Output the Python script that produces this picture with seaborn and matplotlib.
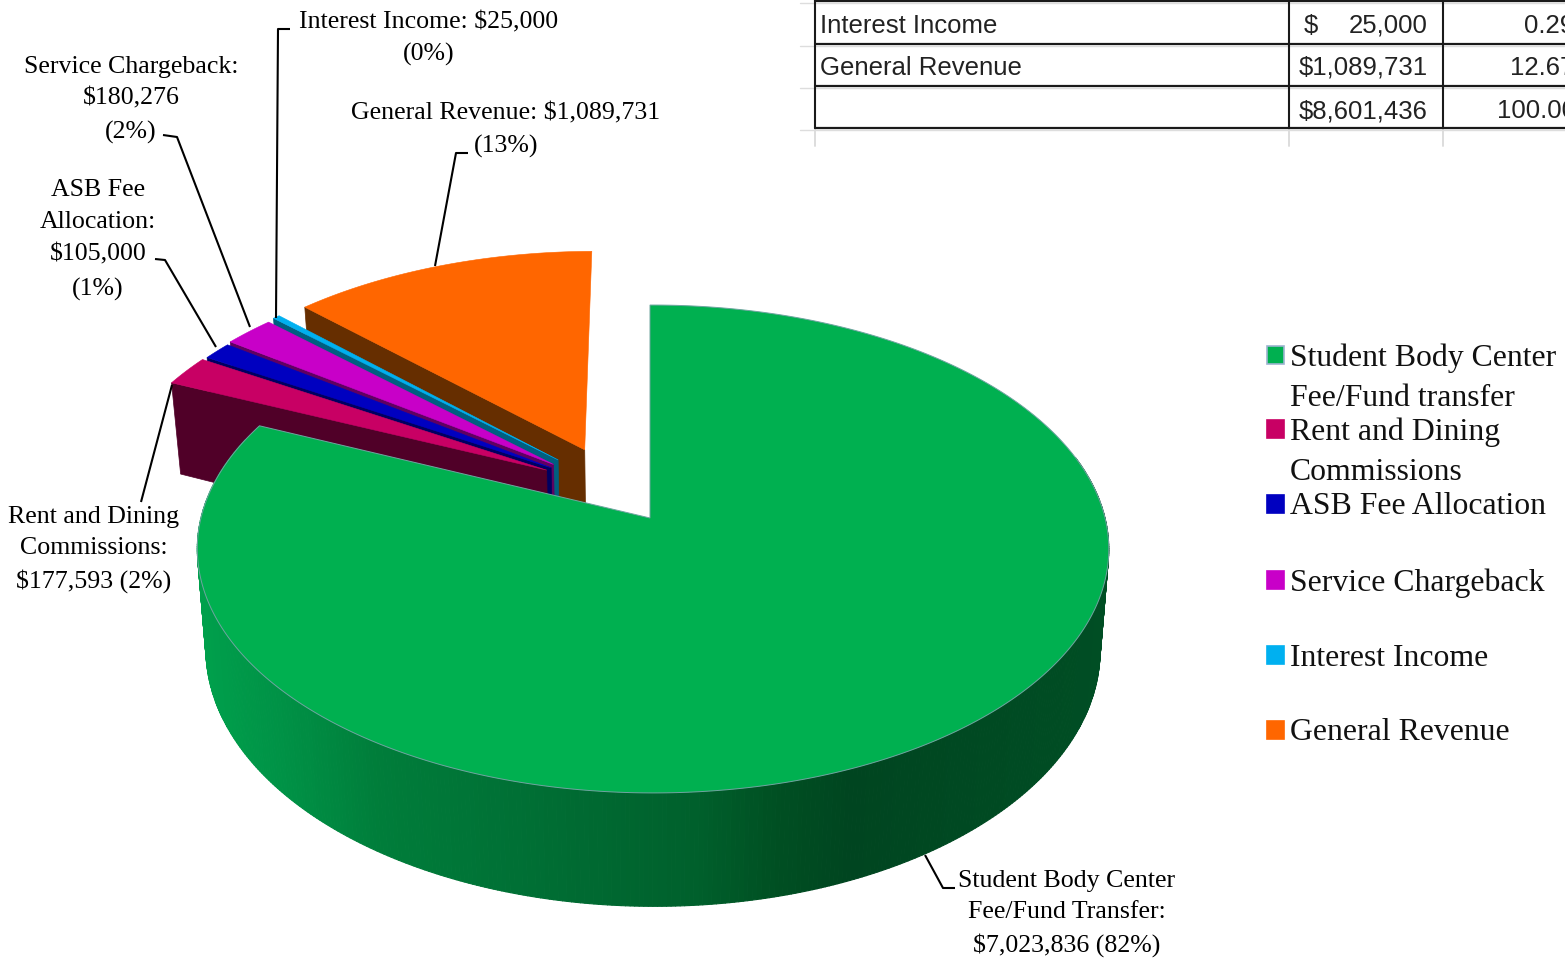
import numpy as np
import matplotlib
matplotlib.use("Agg")
import matplotlib.pyplot as plt
from matplotlib.collections import PolyCollection
from matplotlib.colors import LinearSegmentedColormap
from matplotlib.patches import Polygon, Rectangle
import seaborn as sns

# Budget sources, in clockwise drawing order from twelve o'clock
sources = ["Student Body Center", "Rent and Dining", "ASB Fee Allocation",
           "Service Chargeback", "Interest Income", "General Revenue"]
amounts = [7023836, 177593, 105000, 180276, 25000, 1089731]

legend_lines = [["Student Body Center", "Fee/Fund transfer"],
                ["Rent and Dining", "Commissions"],
                ["ASB Fee Allocation"],
                ["Service Chargeback"],
                ["Interest Income"],
                ["General Revenue"]]

top_colors = ["#00B050", "#C80064", "#0000C0", "#C800C8", "#00B0F0", "#FF6600"]
side_colors = ["#006B33", "#500028", "#000060", "#600060", "#005F80", "#662E00"]

# How far each slice is pulled out of the pie, in units of the radius (sideways, backwards)
pull_out = [(0.0, 0.0), (-0.235, 0.205), (-0.225, 0.215), (-0.22, 0.23), (-0.21, 0.25), (-0.15, 0.295)]

# Projection of the pie disc onto the canvas
APEX_X, APEX_Y = 650.0, 518.0
SCALE_X, SCALE_Y = 452.0, 240.0
TILT = 0.127
SKEW = -0.0066
DEPTH = 99.0
BASE_SHRINK = 0.981

sns.set_theme(style="white")
SERIF = "Liberation Serif"
GRID_FONT = "Liberation Sans"

fig = plt.figure(figsize=(15.65, 9.6), dpi=100)
ax = fig.add_axes([0, 0, 1, 1])
ax.set_xlim(0, 1565)
ax.set_ylim(960, 0)
ax.axis("off")


def project(x, y, lower=False):
    w = 1 + TILT * y + SKEW * x
    if lower:
        return APEX_X + BASE_SHRINK * SCALE_X * x / w, APEX_Y + (DEPTH - SCALE_Y * y) / w
    return APEX_X + SCALE_X * x / w, APEX_Y - SCALE_Y * y / w


def disc_point(clock_deg, offset=(0.0, 0.0), radius=1.0):
    t = np.radians(clock_deg)
    return radius * np.sin(t) + offset[0], radius * np.cos(t) + offset[1]


def sector_outline(start, end, offset, lower=False):
    clocks = np.linspace(start, end, max(8, int(end - start) * 3))
    xs, ys = disc_point(clocks, offset)
    px, py = project(xs, ys, lower)
    ax_, ay_ = project(offset[0], offset[1], lower)
    return np.column_stack([np.r_[ax_, px], np.r_[ay_, py]])


total = sum(amounts)
sweeps = 360.0 * np.array(amounts) / total
bounds = np.r_[0.0, np.cumsum(sweeps)]

# Slices pulled out behind the main one, furthest first
for i in [5, 4, 3, 2, 1]:
    start, end = bounds[i], bounds[i + 1]
    off = pull_out[i]
    rim = disc_point(start, off)
    corners = [project(*off), project(*rim), project(*rim, lower=True), project(*off, lower=True)]
    ax.add_patch(Polygon(corners, closed=True, fc=side_colors[i], ec=side_colors[i], lw=0.5, zorder=2 + 2 * (5 - i)))
    ax.add_patch(Polygon(sector_outline(start, end, off), closed=True, fc=top_colors[i], ec=top_colors[i], lw=0.4,
                         zorder=3 + 2 * (5 - i)))

# Wall of the main slice, shaded from left to right in narrow strips
wall_shade = LinearSegmentedColormap.from_list(
    "wall", [(0.0, "#00A04C"), (0.10, "#009045"), (0.20, "#007D3A"), (0.35, "#007035"), (0.55, "#00602C"),
             (0.64, "#004F22"), (0.72, "#004520"), (1.0, "#004E24")])
wall_clocks = np.linspace(75, 290, 420)
wx, wy = disc_point(wall_clocks)
top_x, top_y = project(wx, wy)
low_x, low_y = project(wx, wy, lower=True)
strips = [[(top_x[k], top_y[k]), (top_x[k + 1], top_y[k + 1]), (low_x[k + 1], low_y[k + 1]), (low_x[k], low_y[k])]
          for k in range(len(wx) - 1)]
strip_colors = wall_shade(np.clip((top_x[:-1] - 197) / (1109 - 197), 0, 1))
ax.add_collection(PolyCollection(strips, facecolors=strip_colors, edgecolors=strip_colors,
                                 linewidths=0.8, zorder=20))

ax.add_patch(Polygon(sector_outline(bounds[0], bounds[1], pull_out[0]), closed=True, fc=top_colors[0],
                     ec="#6FA5A0", lw=0.7, zorder=21))

# Leader lines from slices to their callouts
leaders = [([925, 943, 955], [855, 888, 888]),
           ([172, 141], [385, 502]),
           ([216, 165, 155], [347, 260, 259]),
           ([250, 177, 163], [327, 137, 135]),
           ([276, 278, 290], [318, 29, 29]),
           ([435, 456, 468], [266, 153, 153])]
for lx, ly in leaders:
    ax.plot(lx, ly, color="black", lw=1.5, solid_capstyle="butt", zorder=30)


def money(v):
    return f"${v:,}"


def share(v):
    return f"({100 * v / total:.0f}%)"


callouts = [
    (1067, [878, 910, 943], ["Student Body Center", "Fee/Fund Transfer:", f"{money(amounts[0])} {share(amounts[0])}"]),
    (94, [514, 546, 579], ["Rent and Dining", "Commissions:", f"{money(amounts[1])} {share(amounts[1])}"]),
    (98, [188, 219, 252, 287], ["ASB Fee", "Allocation:", money(amounts[2]), share(amounts[2])]),
    (131, [65, 96, 130], ["Service Chargeback:", money(amounts[3]), share(amounts[3])]),
    (429, [20, 52], [f"Interest Income: {money(amounts[4])}", share(amounts[4])]),
    (506, [111, 144], [f"General Revenue: {money(amounts[5])}", share(amounts[5])]),
]
for cx, rows, lines in callouts:
    for ry, line in zip(rows, lines):
        ax.text(cx, ry + 2.5, line, ha="center", va="center", family=SERIF, fontsize=18.6, color="black", zorder=31)

# Legend column
legend_rows = [355, 429, 504, 580, 655, 730]
for ry, lines, color in zip(legend_rows, legend_lines, top_colors):
    edge = "#9DB4D0" if color == top_colors[0] else color
    ax.add_patch(Rectangle((1266.5, ry - 9), 17.5, 18, fc=color, ec=edge, lw=1.2))
    for n, line in enumerate(lines):
        ax.text(1290, ry + 3 + n * 40, line, ha="left", va="center", family=SERIF, fontsize=22.9, color="#111111")

# Spreadsheet excerpt in the upper right corner
row_lines = [1, 44, 86, 128]
col_lines = [815, 1289, 1443]
for y in row_lines:
    ax.plot([800, 1565], [y + 2, y + 2], color="#DDDDDD", lw=1.0, zorder=1)
    ax.plot([815, 1565], [y, y], color="#1A1A1A", lw=1.6, zorder=5)
for x in col_lines:
    ax.plot([x, x], [128, 146], color="#DDDDDD", lw=1.4, zorder=1)
    ax.plot([x, x], [0, 128], color="#1A1A1A", lw=1.5, zorder=5)

grid_text = dict(family=GRID_FONT, fontsize=18.5, color="#222222", va="center")
ax.text(820, 26, sources[4], ha="left", **grid_text)
ax.text(820, 68, sources[5], ha="left", **grid_text)
ax.text(1304, 26, "$", ha="left", **grid_text)
ax.text(1428, 26, f"{amounts[4]:,}", ha="right", **grid_text)
ax.text(1428, 68, money(amounts[5]), ha="right", **grid_text)
ax.text(1428, 111, money(total), ha="right", **grid_text)
ax.text(1524, 26, f"{100 * amounts[4] / total:.2f}%", ha="left", **grid_text)
ax.text(1510, 68, f"{100 * amounts[5] / total:.2f}%", ha="left", **grid_text)
ax.text(1497, 111, f"{100 * total / total:.2f}%", ha="left", **grid_text)

fig.savefig("out.png", dpi=100, facecolor="white")
